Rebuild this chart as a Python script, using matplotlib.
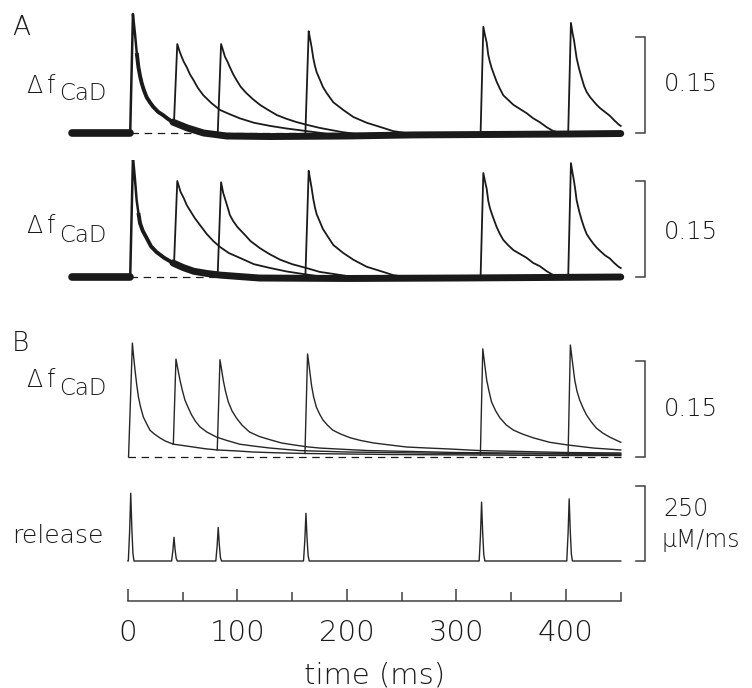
import matplotlib
matplotlib.use("Agg")
import matplotlib.pyplot as plt
from matplotlib.ticker import FixedLocator

# --- data (time in ms, fluorescence as delta f, release in uM/ms) ---
A1_T1_T = [-51, 2, 4.5, 5.5, 6.5, 8, 9.5, 11, 12.5, 14.5, 17, 20, 23, 27.5, 32, 36.5, 41, 47.5, 54,
           61.5, 69, 79.5, 90, 130, 200, 260, 330, 400, 450]
A1_T1_V = [0, 0, 0.186, 0.169, 0.153, 0.125, 0.103, 0.089, 0.078, 0.067, 0.056, 0.048, 0.041, 0.033,
           0.028, 0.022, 0.017, 0.0125, 0.008, 0.004, 0, -0.0023, -0.0047, -0.0055, -0.0047, -0.003,
           -0.0023, -0.0016, -0.0008]
A1_T2_T = [42, 45, 47, 49, 51, 53.6, 56.5, 59.7, 64, 68.8, 76, 84, 92, 102, 115, 130, 145, 163, 190]
A1_T2_V = [0.017, 0.139, 0.128, 0.119, 0.111, 0.103, 0.092, 0.083, 0.070, 0.059, 0.047, 0.036, 0.030,
           0.023, 0.016, 0.011, 0.007, 0.003, -0.003]
A1_T3_T = [82, 85, 87, 88.6, 91, 93, 96, 99, 103, 108, 114, 120.5, 128, 136, 145, 154, 164, 175, 195, 215]
A1_T3_V = [0.0016, 0.139, 0.128, 0.119, 0.111, 0.103, 0.092, 0.083, 0.072, 0.0625, 0.053, 0.044, 0.036,
           0.028, 0.022, 0.017, 0.0125, 0.008, 0.0016, -0.003]
A1_T4_T = [162, 165, 166.3, 167.7, 169.2, 170.7, 172.3, 175.3, 178, 181.4, 187.5, 196.6, 205.8, 218,
           233, 242, 260]
A1_T4_V = [0, 0.159, 0.147, 0.134, 0.117, 0.105, 0.095, 0.083, 0.072, 0.0625, 0.048, 0.036, 0.025,
           0.016, 0.008, 0.003, -0.0016]
A1_T5_T = [322, 324.5, 326, 327.6, 329, 330.5, 332, 334.3, 336.7, 339.7, 342.7, 347, 352, 358, 364,
           370, 376, 382.4, 388.4, 400]
A1_T5_V = [0, 0.166, 0.153, 0.141, 0.122, 0.111, 0.102, 0.091, 0.080, 0.069, 0.059, 0.052, 0.044,
           0.0375, 0.031, 0.023, 0.017, 0.009, 0.003, -0.0016]
A1_T6_T = [402, 404.5, 406, 407.3, 408.5, 409.7, 412, 414.3, 416.6, 418.9, 422, 425, 428, 431, 435.5,
           440, 444, 448, 450]
A1_T6_V = [0, 0.172, 0.156, 0.145, 0.131, 0.117, 0.100, 0.086, 0.073, 0.064, 0.056, 0.050, 0.044,
           0.039, 0.033, 0.027, 0.020, 0.0135, 0.011]

A2_T1_T = [-51, 2, 4.5, 5.5, 6.4, 7.9, 9.5, 11, 13.5, 17, 21, 26, 33, 41, 50, 60, 72, 84, 120, 200,
           300, 450]
A2_T1_V = [0, 0, 0.186, 0.169, 0.152, 0.120, 0.100, 0.084, 0.072, 0.061, 0.048, 0.039, 0.030, 0.022,
           0.015, 0.009, 0.0055, 0.003, -0.0016, -0.0023, -0.0016, 0]
A2_T2_T = [42, 45, 48, 51, 53.6, 57, 61, 65.8, 72, 78, 84, 92, 102, 115, 130, 145, 160, 185]
A2_T2_V = [0.019, 0.150, 0.133, 0.123, 0.1125, 0.103, 0.092, 0.081, 0.067, 0.056, 0.047, 0.0375,
           0.030, 0.020, 0.014, 0.0086, 0.0047, -0.0016]
A2_T3_T = [82, 85, 87, 89, 91, 93, 96, 100, 105, 112, 120.5, 129, 139, 150, 163, 175, 200, 220]
A2_T3_V = [0.008, 0.148, 0.131, 0.120, 0.109, 0.097, 0.0875, 0.078, 0.069, 0.056, 0.045, 0.036, 0.027,
           0.020, 0.014, 0.008, 0.0016, -0.0016]
A2_T4_T = [162, 165, 166.3, 167.7, 169.2, 170.7, 172.3, 175.3, 178, 181.4, 187.5, 196.6, 205.8, 218,
           233, 242, 260]
A2_T4_V = [0, 0.166, 0.153, 0.139, 0.122, 0.109, 0.098, 0.086, 0.075, 0.066, 0.050, 0.0375, 0.027,
           0.016, 0.008, 0.003, -0.0016]
A2_T5_T = [322, 324.5, 326, 327.6, 329, 330.5, 332, 334.3, 336.7, 339.7, 342.7, 347, 352, 358, 364,
           370, 376, 382.4, 388.4, 400]
A2_T5_V = [0, 0.1625, 0.150, 0.1375, 0.119, 0.108, 0.100, 0.089, 0.078, 0.067, 0.058, 0.050, 0.042,
           0.036, 0.030, 0.022, 0.017, 0.009, 0.003, -0.0016]
A2_T6_T = [402, 404.5, 406, 407.3, 408.5, 409.7, 412, 414.3, 416.6, 418.9, 422, 425, 428, 431, 435.5,
           440, 444, 448, 450]
A2_T6_V = [0, 0.178, 0.1625, 0.150, 0.136, 0.120, 0.103, 0.089, 0.077, 0.067, 0.059, 0.052, 0.046,
           0.041, 0.034, 0.029, 0.022, 0.016, 0.014]

B_T1_T = [0.5, 4, 5, 6.4, 8, 9.5, 11.5, 14, 17, 20, 24, 29, 34, 41.4, 50, 59.6, 70, 81.5, 100, 114,
          135, 161.6, 200, 240, 323, 400, 450]
B_T1_V = [0, 0.178, 0.159, 0.136, 0.1125, 0.094, 0.078, 0.0625, 0.052, 0.042, 0.036, 0.030, 0.025,
          0.020, 0.018, 0.0156, 0.013, 0.011, 0.0094, 0.0078, 0.0066, 0.0055, 0.0047, 0.0039, 0.0031,
          0.0023, 0.0023]
B_T2_T = [41.4, 43.8, 45.5, 47.5, 49.5, 52, 55, 58, 61.5, 65.8, 72, 81, 90, 102, 115, 129.7, 145, 157,
          200, 250, 300, 375, 450]
B_T2_V = [0.020, 0.153, 0.1375, 0.120, 0.105, 0.089, 0.077, 0.066, 0.056, 0.047, 0.039, 0.031, 0.026,
          0.020, 0.017, 0.014, 0.0117, 0.010, 0.0078, 0.0066, 0.0055, 0.0047, 0.0039]
B_T3_T = [81.5, 84, 85.5, 87, 89, 91.6, 95, 99, 104, 111, 120, 129.7, 140, 151, 163, 175, 200, 220,
          260, 300, 350, 400, 450]
B_T3_V = [0.011, 0.152, 0.136, 0.120, 0.103, 0.086, 0.072, 0.061, 0.050, 0.039, 0.032, 0.027, 0.022,
          0.019, 0.016, 0.014, 0.0117, 0.010, 0.0086, 0.007, 0.0063, 0.0055, 0.0047]
B_T4_T = [161.6, 164, 165.5, 167.6, 169.5, 172, 175, 178, 182, 187, 194, 203, 212, 224, 238, 254.5,
          274, 294, 321.5, 360, 400.6, 450]
B_T4_V = [0.0055, 0.161, 0.141, 0.112, 0.094, 0.078, 0.067, 0.058, 0.050, 0.042, 0.036, 0.030, 0.026,
          0.022, 0.019, 0.0156, 0.014, 0.0125, 0.010, 0.0086, 0.007, 0.0063]
B_T5_T = [321.8, 324, 325.8, 327.6, 329.8, 332, 335.8, 339.7, 345.5, 352, 360, 370, 385, 400.6, 425, 450]
B_T5_V = [0.003, 0.169, 0.144, 0.120, 0.102, 0.086, 0.072, 0.061, 0.050, 0.042, 0.036, 0.030, 0.023,
          0.019, 0.014, 0.011]
B_T6_T = [401.9, 404, 406, 408, 410, 412.5, 415.5, 418.6, 423, 427.8, 433.5, 440, 445, 450]
B_T6_V = [0.0023, 0.175, 0.147, 0.120, 0.103, 0.089, 0.077, 0.066, 0.055, 0.045, 0.0375, 0.031, 0.027,
          0.023]

RELEASE_T = [0, 0.3, 1.5, 2.5, 3.5, 4.5, 5.5,
             39.8, 41, 42, 43, 44, 45,
             80.2, 81.4, 82.4, 83.4, 84.4, 85.4,
             160.3, 161.5, 162.5, 163.5, 164.5, 165.5,
             320.7, 321.9, 322.9, 323.9, 324.9, 325.9,
             400.7, 401.9, 402.9, 403.9, 404.9, 405.9, 450]
RELEASE_V = [0, 0, 100, 226, 110, 25, 0,
             0, 35, 79, 38, 9, 0,
             0, 50, 112, 54, 12, 0,
             0, 70, 159, 77, 18, 0,
             0, 87, 196, 95, 22, 0,
             0, 92, 207, 100, 23, 0, 0]

TIME_MAJOR = [0, 100, 200, 300, 400]
TIME_MINOR = [50, 150, 250, 350, 450]
DF_SCALE = 0.15
RELEASE_SCALE = 250

# --- layout (pixels of the 752x688 figure) ---
W, H = 752, 688
PX_ZERO, PX_PER_MS = 128.0, 1.095
XLIM = (-PX_ZERO / PX_PER_MS, (W - PX_ZERO) / PX_PER_MS)
INK = "#1a1a1a"
BAR = "#404040"
plt.rcParams["font.family"] = ["DejaVu Sans"]
plt.rcParams["font.weight"] = "light"

fig = plt.figure(figsize=(W / 100, H / 100), dpi=100)


def panel(top, bottom, base, px_per_unit):
    ax = fig.add_axes([0, 1 - bottom / H, 1, (bottom - top) / H])
    ax.set_xlim(*XLIM)
    ax.set_ylim(-(bottom - base) / px_per_unit, (base - top) / px_per_unit)
    ax.axis("off")
    return ax


def scale_bar(ax, height):
    ax.plot([464, 471.7, 471.7, 464], [0, 0, height, height], color=BAR, lw=1.1,
            solid_joinstyle="miter", clip_on=False)


def df_label(ax, y_main, y_sub):
    ax.text(-92.5, y_main, "Δ", fontsize=17, color=INK, va="baseline", ha="left")
    ax.text(-74.5, y_main, "f", fontsize=17, color=INK, va="baseline", ha="left")
    ax.text(-62.5, y_sub, "CaD", fontsize=16.5, color=INK, va="baseline", ha="left")


def dashed_zero(ax, start):
    ax.plot([start, 450], [0, 0], color=INK, lw=0.9, ls=(0, (6, 4.5)))


def thick_first(ax, tt, vv):
    # superimposed noisy sweeps give a dark band: thin at the peak, thick elsewhere
    ax.plot(tt, vv, color=INK, lw=1.8)
    for lo, hi, lw, cap in [(-100, 2, 5.5, "round"), (8, 54, 2.8, "butt"), (41, 500, 5.0, "round")]:
        seg = [(t, v) for t, v in zip(tt, vv) if lo <= t <= hi]
        ax.plot([p[0] for p in seg], [p[1] for p in seg], color=INK, lw=lw,
                solid_capstyle=cap, solid_joinstyle="round")


# panel A, first row
ax1 = panel(0, 160, 133, 640)
dashed_zero(ax1, 3)
thick_first(ax1, A1_T1_T, A1_T1_V)
for tt, vv in [(A1_T2_T, A1_T2_V), (A1_T3_T, A1_T3_V), (A1_T4_T, A1_T4_V),
               (A1_T5_T, A1_T5_V), (A1_T6_T, A1_T6_V)]:
    ax1.plot(tt, vv, color=INK, lw=1.3)
scale_bar(ax1, DF_SCALE)
ax1.text(489, 0.0766, "0.15", fontsize=17.5, color=INK, va="center", ha="left")
ax1.text(-106, 0.1656, "A", fontsize=19, color=INK, va="center", ha="left")
df_label(ax1, 0.0625, 0.0516)

# panel A, second row
ax2 = panel(160, 300, 277, 640)
dashed_zero(ax2, 2)
thick_first(ax2, A2_T1_T, A2_T1_V)
for tt, vv in [(A2_T2_T, A2_T2_V), (A2_T3_T, A2_T3_V), (A2_T4_T, A2_T4_V),
               (A2_T5_T, A2_T5_V), (A2_T6_T, A2_T6_V)]:
    ax2.plot(tt, vv, color=INK, lw=1.3)
scale_bar(ax2, DF_SCALE)
ax2.text(489, 0.0708, "0.15", fontsize=17.5, color=INK, va="center", ha="left")
df_label(ax2, 0.0683, 0.0552)

# panel B, model
ax3 = panel(310, 475, 457, 640)
dashed_zero(ax3, 0)
for tt, vv in [(B_T1_T, B_T1_V), (B_T2_T, B_T2_V), (B_T3_T, B_T3_V), (B_T4_T, B_T4_V),
               (B_T5_T, B_T5_V), (B_T6_T, B_T6_V)]:
    ax3.plot(tt, vv, color="#262626", lw=1.0)
scale_bar(ax3, DF_SCALE)
ax3.text(489, 0.075, "0.15", fontsize=17.5, color=INK, va="center", ha="left")
ax3.text(-106, 0.178, "B", fontsize=19, color=INK, va="center", ha="left")
df_label(ax3, 0.110, 0.0969)

# release
ax4 = panel(475, 580, 561, 0.3)
ax4.plot(RELEASE_T, RELEASE_V, color="#262626", lw=1.0)
scale_bar(ax4, RELEASE_SCALE)
ax4.text(489, 175, "250", fontsize=17, color=INK, va="center", ha="left")
ax4.text(487, 70, "μM/ms", fontsize=17, color=INK, va="center", ha="left")
ax4.text(-105.5, 61, "release", fontsize=18, color=INK, va="baseline", ha="left")

# time axis
axt = fig.add_axes([0, 1 - 601 / H, 1, 21 / H])
axt.set_xlim(*XLIM)
axt.set_ylim(0, 1)
for side in ["left", "right", "top"]:
    axt.spines[side].set_visible(False)
axt.spines["bottom"].set_bounds(0, 450)
axt.spines["bottom"].set_color(BAR)
axt.spines["bottom"].set_linewidth(1.1)
axt.set_yticks([])
axt.xaxis.set_major_locator(FixedLocator(TIME_MAJOR))
axt.xaxis.set_minor_locator(FixedLocator(TIME_MINOR))
axt.tick_params(axis="x", which="major", direction="in", length=9, width=1.1, color=BAR,
                labelsize=21, labelcolor=INK, pad=13)
axt.tick_params(axis="x", which="minor", direction="in", length=6.5, width=1.1, color=BAR)
axt.patch.set_visible(False)
axt.text(225, -3.55, "time (ms)", fontsize=21, color=INK, va="center", ha="center",
         transform=axt.get_xaxis_transform())

fig.savefig("out.png", dpi=100)
